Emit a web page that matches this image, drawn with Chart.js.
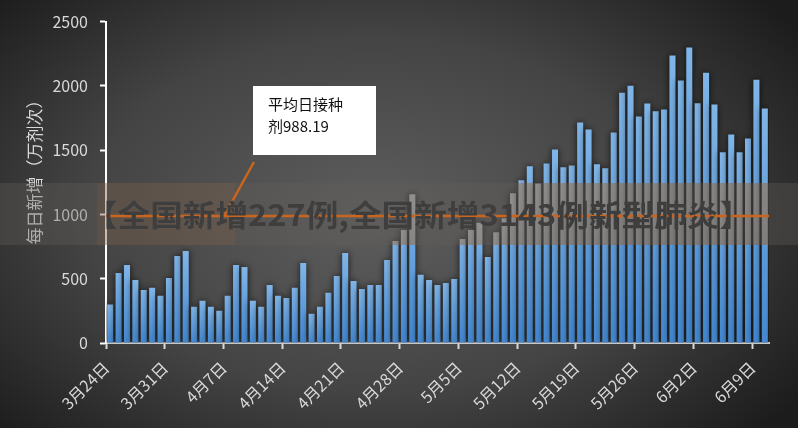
<!DOCTYPE html>
<html>
<head>
<meta charset="utf-8">
<script src="https://cdn.jsdelivr.net/npm/chart.js@4.4.1/dist/chart.umd.min.js"></script>
<style>
    html, body { margin: 0; padding: 0; background: #2a2a2a; }
    #wrap { width: 798px; height: 428px; }
</style>
</head>
<body>
<div id="wrap"><canvas id="dosesChart" width="798" height="428"></canvas></div>
<script>
const dates = [
    '3月24日', '3月25日', '3月26日', '3月27日', '3月28日', '3月29日', '3月30日', '3月31日',
    '4月1日', '4月2日', '4月3日', '4月4日', '4月5日', '4月6日', '4月7日', '4月8日', '4月9日', '4月10日',
    '4月11日', '4月12日', '4月13日', '4月14日', '4月15日', '4月16日', '4月17日', '4月18日', '4月19日', '4月20日',
    '4月21日', '4月22日', '4月23日', '4月24日', '4月25日', '4月26日', '4月27日', '4月28日', '4月29日', '4月30日',
    '5月1日', '5月2日', '5月3日', '5月4日', '5月5日', '5月6日', '5月7日', '5月8日', '5月9日', '5月10日',
    '5月11日', '5月12日', '5月13日', '5月14日', '5月15日', '5月16日', '5月17日', '5月18日', '5月19日', '5月20日',
    '5月21日', '5月22日', '5月23日', '5月24日', '5月25日', '5月26日', '5月27日', '5月28日', '5月29日', '5月30日',
    '5月31日', '6月1日', '6月2日', '6月3日', '6月4日', '6月5日', '6月6日', '6月7日', '6月8日', '6月9日', '6月10日'
];

const tickLabels = ['3月24日', '3月31日', '4月7日', '4月14日', '4月21日', '4月28日',
    '5月5日', '5月12日', '5月19日', '5月26日', '6月2日', '6月9日'];

// 每日新增（万剂次）
const dailyDoses = [
    300, 545, 607, 490, 413, 429, 367, 506, 677, 715,
    281, 328, 281, 250, 367, 607, 591, 328, 281, 452,
    367, 351, 429, 622, 227, 281, 390, 522, 700, 483,
    421, 452, 452, 646, 793, 878, 1157, 530, 490, 452,
    467, 498, 808, 878, 935, 668, 862, 971, 1164, 1265,
    1375, 1240, 1397, 1506, 1367, 1381, 1716, 1660, 1390, 1359,
    1637, 1947, 2001, 1761, 1862, 1802, 1816, 2236, 2041, 2298,
    1864, 2103, 1856, 1483, 1622, 1483, 1591, 2048, 1824
];

const averageDoses = 988.19;
const yTitle = '每日新增（万剂次）';
const noteLines = ['平均日接种', '剂988.19'];
const bannerText = '【全国新增227例,全国新增3143例新型肺炎】';

const FONT = "'Noto Sans CJK SC', 'Noto Sans', sans-serif";
const LABEL_COLOR = '#d9d9d9';
const ORANGE = '#c9651f';

// dark radial backdrop like the original slide
const backdropPlugin = {
    id: 'backdrop',
    beforeDraw(chart) {
        const { ctx, width, height } = chart;
        ctx.save();
        ctx.translate(width * 0.47, height * 0.5);
        ctx.scale(1, 0.62);
        const g = ctx.createRadialGradient(0, 0, 0, 0, 0, 520);
        g.addColorStop(0, '#5e5e5e');
        g.addColorStop(0.55, '#444444');
        g.addColorStop(1, '#1c1c1c');
        ctx.fillStyle = g;
        ctx.fillRect(-width, -height * 2, width * 2, height * 4);
        ctx.restore();
    }
};

// soft dark glow around the bars, the note box, then the ticker band on top
const overlayPlugin = {
    id: 'overlay',
    beforeDatasetsDraw(chart) {
        const ctx = chart.ctx;
        ctx.save();
        ctx.shadowColor = 'rgba(0, 0, 0, 0.75)';
        ctx.shadowBlur = 7;
    },
    afterDatasetsDraw(chart) {
        const ctx = chart.ctx;
        ctx.restore();

        ctx.save();
        ctx.fillStyle = '#ffffff';
        ctx.fillRect(253, 86, 123, 69);
        ctx.fillStyle = '#111111';
        ctx.font = '15px ' + FONT;
        ctx.textBaseline = 'middle';
        ctx.textAlign = 'left';
        ctx.fillText(noteLines[0], 268, 104);
        ctx.fillText(noteLines[1], 268, 126);
        ctx.restore();
    },
    afterDraw(chart) {
        const { ctx, width, chartArea, scales } = chart;

        // axis title, placed a little above the plot middle as in the original
        ctx.save();
        ctx.translate(35, 168);
        ctx.rotate(-Math.PI / 2);
        ctx.font = '17px ' + FONT;
        ctx.fillStyle = LABEL_COLOR;
        ctx.textAlign = 'center';
        ctx.textBaseline = 'middle';
        ctx.fillText(yTitle, 0, 0);
        ctx.restore();

        const bandTop = 183, bandH = 62;
        ctx.save();
        // grey the band out
        ctx.globalCompositeOperation = 'saturation';
        ctx.fillStyle = '#808080';
        ctx.fillRect(0, bandTop, width, bandH);
        ctx.globalCompositeOperation = 'source-over';
        ctx.fillStyle = 'rgba(100, 94, 88, 0.35)';
        ctx.fillRect(0, bandTop, width, bandH);
        ctx.fillStyle = 'rgba(200, 110, 40, 0.10)';
        ctx.fillRect(97, bandTop, 138, bandH);

        // average line and the leader from the note
        const yAvg = scales.y.getPixelForValue(averageDoses);
        ctx.strokeStyle = ORANGE;
        ctx.lineWidth = 2.5;
        ctx.beginPath();
        ctx.moveTo(chartArea.left, yAvg);
        ctx.lineTo(chartArea.right, yAvg);
        ctx.stroke();
        ctx.beginPath();
        ctx.moveTo(254, 162);
        ctx.lineTo(254 - (yAvg - 162) * 21 / 38, yAvg);
        ctx.stroke();

        ctx.font = 'bold 30px ' + FONT;
        ctx.textBaseline = 'middle';
        ctx.textAlign = 'left';
        const w = ctx.measureText(bannerText).width;
        ctx.translate(85, 215);
        ctx.scale(667 / w, 1);
        ctx.fillStyle = '#3e3e3e';
        ctx.fillText(bannerText, 0, 0);
        ctx.restore();
    }
};

function barGradient(context) {
    const chart = context.chart;
    const { ctx, chartArea, scales } = chart;
    if (!chartArea || context.type !== 'data') {
        return '#5b9bd5';
    }
    const top = scales.y.getPixelForValue(context.raw);
    const bottom = scales.y.getPixelForValue(0);
    const g = ctx.createLinearGradient(0, top, 0, bottom);
    g.addColorStop(0, '#80b5e7');
    g.addColorStop(1, '#4287d0');
    return g;
}

const ctx = document.getElementById('dosesChart').getContext('2d');

new Chart(ctx, {
    type: 'bar',
    data: {
        labels: dates,
        datasets: [{
            label: '每日新增',
            data: dailyDoses,
            backgroundColor: barGradient,
            borderWidth: 0,
            barPercentage: 0.72,
            categoryPercentage: 1.0
        }]
    },
    options: {
        responsive: false,
        animation: false,
        devicePixelRatio: 1,
        layout: {
            padding: { top: 20, right: 29, left: 0, bottom: 0 }
        },
        plugins: {
            legend: { display: false },
            tooltip: { enabled: false }
        },
        scales: {
            x: {
                grid: {
                    offset: true,
                    drawOnChartArea: false,
                    drawTicks: true,
                    tickLength: 6,
                    tickWidth: 2,
                    tickColor: c => tickLabels.includes(dates[c.index]) ? LABEL_COLOR : 'rgba(0,0,0,0)'
                },
                border: { color: '#c8c8c8', width: 2 },
                ticks: {
                    autoSkip: false,
                    minRotation: 45,
                    maxRotation: 45,
                    labelOffset: -4,
                    padding: 9,
                    color: LABEL_COLOR,
                    font: { family: FONT, size: 16 },
                    callback: function (value) {
                        const lab = this.getLabelForValue(value);
                        return tickLabels.includes(lab) ? lab : '';
                    }
                },
                afterFit: scale => { scale.height = 85; }
            },
            y: {
                min: 0,
                max: 2500,
                grid: {
                    drawOnChartArea: false,
                    tickLength: 6,
                    tickWidth: 2,
                    tickColor: '#ffffff'
                },
                border: { color: '#ffffff', width: 2 },
                ticks: {
                    stepSize: 500,
                    padding: 12,
                    color: LABEL_COLOR,
                    font: { family: FONT, size: 16 },
                    callback: value => String(value)
                },
                afterFit: scale => { scale.width = 106; }
            }
        }
    },
    plugins: [backdropPlugin, overlayPlugin]
});
</script>
</body>
</html>
